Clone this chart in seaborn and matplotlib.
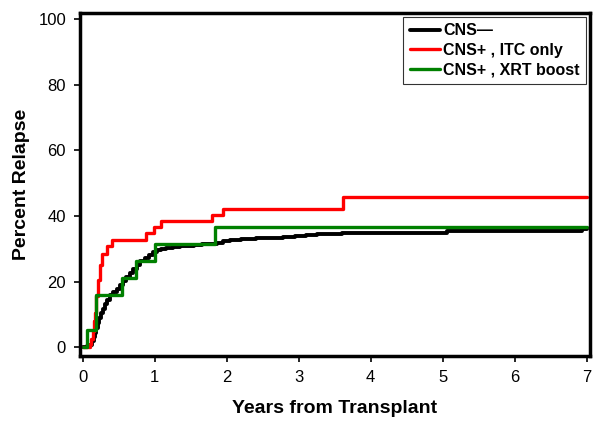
import numpy as np
import pandas as pd
import matplotlib
matplotlib.use("Agg")
import matplotlib.pyplot as plt
import seaborn as sns

# cumulative relapse curves (years, percent)
cns_neg_t = [0.00, 0.06, 0.10, 0.13, 0.15, 0.17, 0.19, 0.21, 0.23, 0.25, 0.28, 0.31,
             0.34, 0.38, 0.42, 0.47, 0.51, 0.56, 0.60, 0.65, 0.70, 0.75, 0.80, 0.86,
             0.92, 0.98, 1.03, 1.08, 1.15, 1.25, 1.35, 1.45, 1.55, 1.65, 1.77, 1.86,
             1.95, 2.04, 2.20, 2.40, 2.60, 2.78, 2.95, 3.10, 3.25, 3.60, 4.00, 5.06,
             6.94, 7.00]
cns_neg_y = [0.0, 0.3, 0.8, 1.8, 3.0, 4.5, 6.0, 7.5, 9.0, 10.4, 11.8, 13.2,
             14.5, 15.8, 16.9, 17.8, 18.9, 20.2, 21.4, 22.7, 24.0, 25.2, 26.2, 27.2,
             28.2, 29.1, 29.7, 30.1, 30.4, 30.6, 30.8, 31.0, 31.2, 31.4, 31.6, 31.9,
             32.3, 32.7, 33.0, 33.2, 33.4, 33.7, 33.9, 34.2, 34.5, 34.7, 34.8, 35.4,
             36.0, 36.0]

itc_t = [0.00, 0.10, 0.12, 0.14, 0.16, 0.17, 0.19, 0.21, 0.24, 0.27, 0.33, 0.40,
         0.88, 0.99, 1.08, 1.79, 1.95, 3.62, 7.00]
itc_y = [0.0, 1.0, 2.5, 5.0, 8.0, 10.5, 15.5, 20.4, 25.0, 28.5, 31.0, 32.7,
         34.7, 36.6, 38.4, 40.4, 42.1, 45.7, 45.7]

xrt_t = [0.00, 0.06, 0.19, 0.55, 0.74, 1.00, 1.84, 7.00]
xrt_y = [0.0, 5.3, 15.8, 21.1, 26.3, 31.6, 36.8, 36.8]

groups = ["CNS\u2014", "CNS+ , ITC only", "CNS+ , XRT boost"]
colors = ["black", "#ff0000", "#008000"]

df = pd.concat([
    pd.DataFrame({"years": cns_neg_t, "pct": cns_neg_y, "group": groups[0]}),
    pd.DataFrame({"years": itc_t, "pct": itc_y, "group": groups[1]}),
    pd.DataFrame({"years": xrt_t, "pct": xrt_y, "group": groups[2]}),
])

sns.set_style("ticks")
plt.rcParams["font.family"] = ["Liberation Sans", "DejaVu Sans"]
plt.rcParams["text.color"] = "black"
plt.rcParams["axes.labelcolor"] = "black"
plt.rcParams["xtick.color"] = "black"
plt.rcParams["ytick.color"] = "black"

fig = plt.figure(figsize=(6.01, 4.24), dpi=100)
ax = fig.add_axes([0.133, 0.160, 0.849, 0.810])

sns.lineplot(data=df, x="years", y="pct", hue="group", hue_order=groups,
             palette=colors, estimator=None, sort=False, drawstyle="steps-post",
             linewidth=2.4, legend=False, ax=ax)
ax.get_lines()[0].set_linewidth(2.8)

ax.set_xlim(-0.04, 7.05)
ax.set_ylim(-2.7, 102)
ax.set_xticks(range(0, 8))
ax.set_yticks(range(0, 101, 20))
ax.set_xlabel("Years from Transplant", fontsize=14, fontweight="bold", labelpad=11)
ax.set_ylabel("Percent Relapse", fontsize=14, fontweight="bold", labelpad=6)
ax.tick_params(labelsize=12, width=1.2, length=4, direction="out", pad=6,
               colors="black")
for s in ax.spines.values():
    s.set_linewidth(2.5)
    s.set_color("black")

handles = ax.get_lines()[:3]
leg = ax.legend(handles, groups, loc="upper right", fontsize=11.5, frameon=True,
                fancybox=False, handlelength=1.9, handletextpad=0.2,
                borderpad=0.4, labelspacing=0.3, borderaxespad=0.25)
leg.get_frame().set_edgecolor("black")
leg.get_frame().set_linewidth(0.8)
for t in leg.get_texts():
    t.set_fontweight("bold")

fig.savefig("out.png", dpi=100)
